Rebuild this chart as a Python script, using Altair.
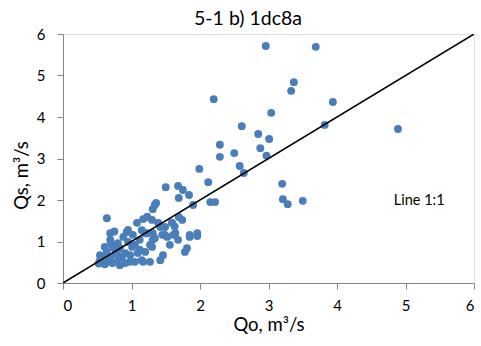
import altair as alt
import pandas as pd

qo = [2.96, 3.69, 3.37, 3.33, 3.94, 2.20, 3.04, 2.61, 3.82, 2.85, 3.01, 2.88, 2.97,
      2.29, 2.29, 2.50, 2.58, 2.64, 4.89, 3.20, 3.21, 3.28, 3.50, 1.99, 2.12, 1.50,
      1.68, 1.75, 1.69, 1.84, 1.90, 2.15, 2.22, 1.36, 1.31, 1.23, 1.17, 1.69, 1.59,
      1.63, 1.42, 1.85, 1.96, 1.49, 1.61, 1.31, 1.15, 1.78, 1.46, 0.69, 0.64,
      0.54, 0.52, 0.61, 0.69, 0.72, 0.61, 0.69, 0.75, 0.80, 0.80, 0.76, 0.88, 0.91,
      0.91, 0.95, 0.95, 1.01, 1.05, 1.08, 1.09, 1.17, 1.20, 1.20, 1.23, 1.30, 1.30,
      1.31, 1.34, 1.39, 1.45, 1.49, 1.52, 1.59, 1.64, 1.74, 1.81, 1.27, 1.15,
      0.54, 0.64, 0.73, 0.83, 0.98, 1.12, 1.02, 0.93, 1.23, 1.34, 1.42, 1.27, 0.79,
      0.66, 0.58, 0.83, 0.98, 1.12, 1.56, 1.68, 1.85, 1.96, 0.70, 0.86, 1.05, 0.77]
qs = [5.71, 5.69, 4.84, 4.63, 4.36, 4.43, 4.10, 3.78, 3.81, 3.59, 3.47, 3.25, 3.07,
      3.33, 3.04, 3.13, 2.82, 2.65, 3.71, 2.39, 2.02, 1.90, 1.98, 2.75, 2.43, 2.31,
      2.34, 2.24, 2.05, 2.12, 1.88, 1.95, 1.95, 1.93, 1.78, 1.59, 1.54, 1.59, 1.45,
      1.36, 1.35, 1.11, 1.13, 1.16, 1.16, 1.20, 1.27, 0.75, 0.67, 1.20, 1.56,
      0.55, 0.47, 0.45, 0.60, 0.48, 0.87, 1.04, 1.24, 0.96, 0.67, 0.80, 1.11, 0.72,
      0.48, 1.28, 0.99, 0.87, 0.51, 1.45, 0.72, 0.51, 0.75, 1.20, 1.59, 1.52, 0.87,
      1.04, 1.88, 1.45, 1.16, 1.35, 1.11, 1.45, 1.20, 1.52, 0.84, 0.92, 0.55,
      0.67, 0.75, 0.87, 0.84, 0.67, 1.04, 1.16, 1.23, 1.20, 1.08, 0.55, 0.51, 0.51,
      0.51, 0.60, 0.43, 0.51, 0.80, 0.92, 1.04, 1.16, 1.20, 0.95, 0.62, 0.92, 0.70]

line_x = [0, 6]
line_y = [0, 6]
label_text = ["Line 1:1"]
label_x = [5.20]
label_y = [1.98]
title_text = ["5-1 b) 1dc8a"]

FONT = "Lato"

pts = pd.DataFrame({"Qo": qo, "Qs": qs})
ln = pd.DataFrame({"Qo": line_x, "Qs": line_y})
lab = pd.DataFrame({"Qo": label_x, "Qs": label_y, "t": label_text})
ttl = pd.DataFrame({"t": title_text})

xs = alt.Scale(domain=[0, 6], nice=False)
ys = alt.Scale(domain=[0, 6], nice=False)

xaxis = alt.Axis(
    title="Qo, m³/s", values=[0, 1, 2, 3, 4, 5, 6], format="d", grid=False,
    domainColor="#868686", tickColor="#868686", tickSize=6,
    labelFontSize=15, labelFont=FONT, labelColor="#000000", labelPadding=9,
    titleFontSize=18.5, titleFont=FONT, titleFontWeight="normal", titleColor="#000000",
    titleY=32, titleBaseline="top",
)
yaxis = alt.Axis(
    title="Qs, m³/s", values=[0, 1, 2, 3, 4, 5, 6], format="d", grid=False,
    domainColor="#868686", tickColor="#868686", tickSize=6,
    labelFontSize=15, labelFont=FONT, labelColor="#000000", labelPadding=12,
    titleFontSize=18.5, titleFont=FONT, titleFontWeight="normal", titleColor="#000000",
    titleX=-32, titleY=141, titleBaseline="bottom",
)

points = alt.Chart(pts).mark_point(
    shape="circle", filled=True, size=62, color="#4A7EBB", opacity=1
).encode(
    x=alt.X("Qo:Q", scale=xs, axis=xaxis),
    y=alt.Y("Qs:Q", scale=ys, axis=yaxis),
)

line = alt.Chart(ln).mark_line(color="#000000", strokeWidth=1.5, clip=True).encode(
    x=alt.X("Qo:Q", scale=xs),
    y=alt.Y("Qs:Q", scale=ys),
)

text = alt.Chart(lab).mark_text(
    font=FONT, fontSize=14.5, color="#000000", align="center", baseline="middle"
).encode(
    x=alt.X("Qo:Q", scale=xs),
    y=alt.Y("Qs:Q", scale=ys),
    text="t:N",
)

title = alt.Chart(ttl).mark_text(
    font=FONT, fontSize=19.5, color="#000000", align="center", baseline="alphabetic"
).encode(
    x=alt.value(185),
    y=alt.value(-9),
    text="t:N",
)

chart = (
    alt.layer(points, line, text, title)
    .properties(
        width=411,
        height=249,
        autosize=alt.AutoSizeParams(type="none"),
        padding={"left": 63, "top": 34, "right": 7, "bottom": 63},
    )
    .configure_view(stroke="#000000", strokeWidth=1.2)
    .configure(background="#ffffff")
)

chart.save("out.html", embed_options={"renderer": "svg", "actions": False})
